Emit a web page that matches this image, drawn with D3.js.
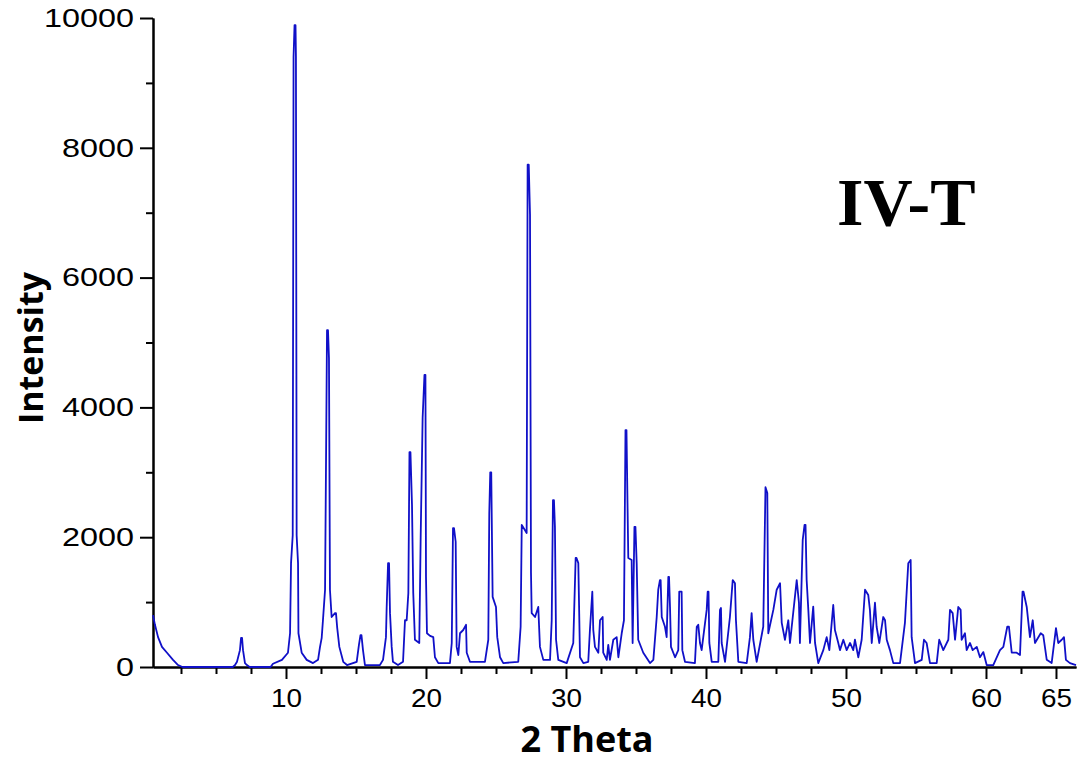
<!DOCTYPE html>
<html>
<head>
<meta charset="utf-8">
<script src="https://cdn.jsdelivr.net/npm/d3@7"></script>
<style>
body{margin:0;background:#fff}
svg text{font-family:"Liberation Sans",Arial,sans-serif}
</style>
</head>
<body>
<svg></svg>
<script>
// XRD pattern: 2 theta (deg) and intensity (counts)
var twoTheta = [
    0.50, 0.64, 0.86, 1.14, 1.50, 1.93, 2.29, 2.60, 6.20,
    6.36, 6.50, 6.71, 6.79, 6.86, 6.93, 7.07, 7.21, 7.40, 8.90,
    9.07, 9.71, 10.14, 10.29, 10.36, 10.48, 10.54, 10.61, 10.68, 10.71, 10.76, 10.86, 10.89, 11.12, 11.48, 11.93,
    12.29, 12.43, 12.55, 12.64, 12.79, 12.93, 13.00, 13.07, 13.14, 13.26, 13.50, 13.57, 13.66, 13.81, 14.09, 14.36,
    15.05, 15.21, 15.32, 15.39, 15.50, 15.64,
    16.71, 16.93, 17.14, 17.19, 17.29, 17.36, 17.43, 17.55, 17.64, 18.00,
    18.36, 18.50, 18.62, 18.74, 18.82, 18.89, 19.00, 19.09, 19.21, 19.52, 19.62, 19.76, 19.89, 19.96, 20.00, 20.07, 20.29, 20.52, 20.64, 20.88,
    21.71, 21.84, 21.93, 22.00, 22.12, 22.19, 22.31, 22.43, 22.66, 22.86, 22.91, 23.14,
    24.21, 24.45, 24.52, 24.59, 24.66, 24.76, 25.00, 25.09, 25.29, 25.52,
    26.59, 26.76, 26.84, 27.19, 27.26, 27.34, 27.43, 27.50, 27.55, 27.79, 28.02, 28.14, 28.38, 28.86,
    28.98, 29.07, 29.14, 29.21, 29.29, 29.45, 30.05,
    30.52, 30.69, 30.75, 30.88, 31.00, 31.24, 31.59,
    31.71, 31.88, 31.95, 32.07, 32.31, 32.43, 32.62, 32.66, 32.91, 33.02, 33.14, 33.38, 33.62, 33.74, 33.98, 34.14, 34.25, 34.32, 34.45, 34.69, 34.76, 34.89, 34.96, 35.05, 35.16, 35.52, 36.00,
    36.24, 36.48, 36.59, 36.71, 36.76, 36.84, 37.07, 37.19, 37.31, 37.36, 37.43, 37.50, 37.79, 38.02, 38.09, 38.26, 38.31, 38.50, 39.21,
    39.34, 39.45, 39.57, 39.69, 40.05, 40.12, 40.18, 40.24, 40.41, 40.88, 41.00, 41.07, 41.12, 41.36, 41.71, 41.91, 42.07, 42.14, 42.31, 42.91,
    43.14, 43.26, 43.38, 43.62, 44.09, 44.25, 44.38, 44.45, 44.81, 45.05, 45.29, 45.41, 45.64, 45.88, 46.00, 46.48, 46.64, 46.71, 46.91, 47.04, 47.11, 47.19, 47.31, 47.43, 47.66, 47.79, 48.02,
    48.38, 48.62, 48.81, 49.09, 49.21, 49.45, 49.57, 49.81, 50.05, 50.29, 50.52, 50.64, 50.88, 51.12, 51.36, 51.59, 51.71, 51.84, 52.07, 52.19, 52.38, 52.66, 52.79, 52.91, 53.14, 53.38, 53.86,
    54.21, 54.45, 54.62, 54.69, 54.93, 55.41, 55.57, 55.76, 56.00, 56.48, 56.66, 56.95, 57.31, 57.43, 57.62, 57.79, 58.02, 58.19, 58.26, 58.50, 58.62, 58.86, 59.05, 59.34, 59.57, 59.81, 60.05, 60.52,
    61.00, 61.24, 61.52, 61.64, 61.84, 62.19, 62.43, 62.61, 62.68, 62.91, 63.14, 63.34, 63.50, 63.91, 64.09, 64.34, 64.69, 65.00, 65.16, 65.41, 65.57, 65.71, 66.00, 66.43
]

var intensity = [
    800, 650, 460, 310, 220, 110, 30, 0, 0,
    30, 80, 260, 450, 450, 260, 60, 30, 0, 0,
    50, 110, 220, 520, 1600, 2030, 9400, 9890, 9890, 9400, 2030, 1600, 520, 220, 110, 60,
    110, 310, 450, 720, 1190, 5190, 5190, 4760, 1190, 770, 830, 830, 600, 310, 80, 30,
    80, 340, 490, 490, 260, 30,
    30, 110, 460, 910, 1600, 1600, 830, 310, 80, 30,
    80, 720, 720, 1140, 3310, 3310, 2500, 1140, 420, 370, 2000, 3840, 4500, 4500, 1390, 520, 480, 460, 150, 60,
    60, 370, 2140, 2140, 1930, 310, 185, 520, 570, 650, 220, 80,
    80, 420, 2370, 3000, 3000, 1080, 925, 460, 150, 60,
    80, 620, 2190, 2065, 7740, 7740, 6970, 1450, 830, 770, 925, 310, 110, 110,
    720, 2570, 2570, 2160, 420, 110, 60,
    370, 1680, 1680, 1600, 150, 60, 80,
    570, 1160, 570, 310, 220, 720, 770, 220, 110, 340, 110, 420, 460, 150, 520, 720, 3650, 3650, 1680, 1650, 370, 2160, 2160, 1600, 420, 220, 60,
    110, 770, 1190, 1340, 1340, 770, 620, 460, 1390, 1390, 925, 310, 150, 260, 1160, 1160, 260, 80, 60,
    620, 650, 370, 260, 880, 1160, 1160, 370, 80, 80, 880, 910, 370, 80, 770, 1340, 1290, 720, 80, 60,
    460, 830, 420, 80, 620, 2770, 2680, 520, 880, 1190, 1290, 680, 420, 720, 370, 1340, 990, 370, 1960, 2190, 2190, 1340, 880, 370, 930, 370, 60,
    260, 460, 260, 955, 570, 370, 260, 420, 260, 370, 260, 420, 150, 420, 1190, 1110, 880, 370, 990, 620, 370, 770, 720, 420, 260, 60, 60,
    680, 1600, 1650, 460, 60, 110, 420, 370, 60, 60, 420, 260, 420, 880, 830, 420, 925, 880, 420, 520, 260, 370, 260, 310, 150, 230, 30, 30,
    260, 310, 620, 620, 220, 220, 185, 1160, 1160, 925, 460, 720, 370, 520, 490, 110, 60, 600, 370, 420, 460, 110, 60, 30
]

var yTicks = [0, 2000, 4000, 6000, 8000, 10000]
var yMinorTicks = [1000, 3000, 5000, 7000, 9000]
var xTicks = [10, 20, 30, 40, 50, 60, 65]
var xMinorTicks = [2.5, 5, 7.5, 12.5, 15, 17.5, 22.5, 25, 27.5, 32.5, 35, 37.5, 42.5, 45, 47.5, 52.5, 55, 57.5, 62.5]
var xTitle = "2 Theta"
var yTitle = "Intensity"
var sampleName = "IV-T"

var screen = {width:1083, height:763}
var plot = {left:153, right:1076, top:18, bottom:667}

console.log(twoTheta.length, intensity.length)

var drawChart = function()
{
    var svg = d3.select("svg")
        .attr("width", screen.width)
        .attr("height", screen.height)

    var xScale = d3.scaleLinear()
                   .domain([0.5, 66.43])
                   .range([plot.left, plot.right])
    var yScale = d3.scaleLinear()
                   .domain([0, 10000])
                   .range([plot.bottom, plot.top])

    // minor ticks first, then the main axes on top
    svg.append("g")
       .attr("class", "axis minor")
       .attr("transform", "translate(0," + plot.bottom + ")")
       .call(d3.axisBottom(xScale).tickValues(xMinorTicks).tickSize(7).tickSizeOuter(0).tickFormat(""))
    svg.append("g")
       .attr("class", "axis minor")
       .attr("transform", "translate(" + plot.left + ",0)")
       .call(d3.axisLeft(yScale).tickValues(yMinorTicks).tickSize(7).tickSizeOuter(0).tickFormat(""))

    svg.append("g")
       .attr("class", "axis")
       .attr("id", "xAxis")
       .attr("transform", "translate(0," + plot.bottom + ")")
       .call(d3.axisBottom(xScale).tickValues(xTicks).tickSize(12).tickSizeOuter(0).tickPadding(10).tickFormat(function(d){return d}))
    svg.append("g")
       .attr("class", "axis")
       .attr("id", "yAxis")
       .attr("transform", "translate(" + plot.left + ",0)")
       .call(d3.axisLeft(yScale).tickValues(yTicks).tickSize(13).tickSizeOuter(0).tickPadding(6).tickFormat(function(d){return d}))

    svg.selectAll(".axis path, .axis line")
       .attr("stroke", "#000")
       .attr("stroke-width", 2)

    // the labels in the picture are wider than plain Arial
    svg.select("#xAxis").selectAll("text")
       .attr("font-size", 26)
       .attr("fill", "#000")
       .attr("lengthAdjust", "spacingAndGlyphs")
       .attr("textLength", function(d){return String(d).length * 15.5})
    svg.select("#yAxis").selectAll("text")
       .attr("font-size", 26)
       .attr("fill", "#000")
       .attr("lengthAdjust", "spacingAndGlyphs")
       .attr("textLength", function(d){return String(d).length * 18})

    var lineGenerator = d3.line()
                          .x(function(i){return xScale(twoTheta[i])})
                          .y(function(i){return yScale(intensity[i])})

    svg.append("path")
       .datum(d3.range(twoTheta.length))
       .attr("d", lineGenerator)
       .attr("fill", "none")
       .attr("stroke", "#1010c8")
       .attr("stroke-width", 1.8)
       .attr("stroke-linejoin", "round")

    svg.append("text")
       .attr("x", 587)
       .attr("y", 752)
       .attr("text-anchor", "middle")
       .style("font-family", "'Open Sans', sans-serif")
       .attr("font-weight", "bold")
       .attr("font-size", 36)
       .text(xTitle)

    svg.append("text")
       .attr("transform", "translate(43,348) rotate(-90)")
       .attr("text-anchor", "middle")
       .style("font-family", "'Open Sans', sans-serif")
       .attr("font-weight", "bold")
       .attr("font-size", 34)
       .text(yTitle)

    svg.append("text")
       .attr("x", 837)
       .attr("y", 225)
       .style("font-family", "'Liberation Serif', 'Times New Roman', serif")
       .attr("font-weight", "bold")
       .attr("font-size", 68)
       .text(sampleName)
}

drawChart()
</script>
</body>
</html>
